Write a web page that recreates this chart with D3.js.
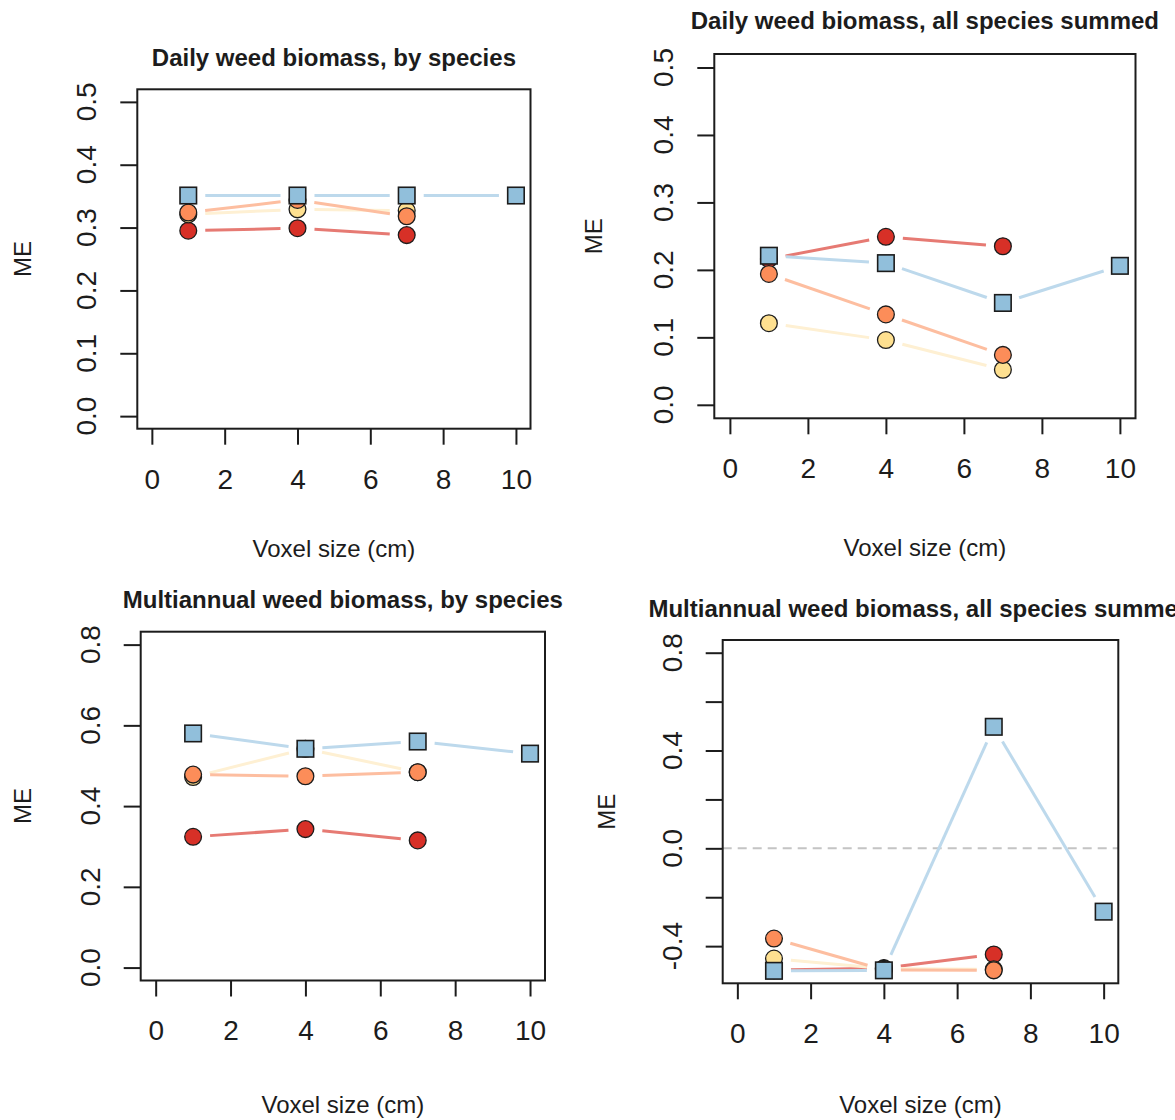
<!DOCTYPE html>
<html>
<head>
<meta charset="utf-8">
<script src="https://cdn.jsdelivr.net/npm/d3@7"></script>
<style>
  html, body { margin: 0; padding: 0; background: #ffffff; }
  svg { display: block; }
</style>
</head>
<body>
<svg id="chart" width="1175" height="1120"></svg>
<script>
// ---------------- data ----------------
const voxelCircles = [1, 4, 7];
const voxelSquares = [1, 4, 7, 10];
const xTicks = [0, 2, 4, 6, 8, 10];
const xTickLabels = ["0", "2", "4", "6", "8", "10"];

const titles = [
  "Daily weed biomass, by species",
  "Daily weed biomass, all species summed",
  "Multiannual weed biomass, by species",
  "Multiannual weed biomass, all species summed"
];
const xLabel = "Voxel size (cm)";
const yLabel = "ME";

// Daily, by species
const dailySpRed    = [0.295, 0.299, 0.288];
const dailySpOrange = [0.324, 0.344, 0.318];
const dailySpYellow = [0.321, 0.329, 0.327];
const dailySpBlue   = [0.351, 0.351, 0.351, 0.351];
const dailySpYTicks = [0, 0.1, 0.2, 0.3, 0.4, 0.5];
const dailySpYLabels = ["0.0", "0.1", "0.2", "0.3", "0.4", "0.5"];

// Daily, all species summed
const dailySumRed    = [0.216, 0.249, 0.235];
const dailySumOrange = [0.194, 0.134, 0.074];
const dailySumYellow = [0.121, 0.096, 0.052];
const dailySumBlue   = [0.221, 0.210, 0.151, 0.206];
const dailySumYTicks = [0, 0.1, 0.2, 0.3, 0.4, 0.5];
const dailySumYLabels = ["0.0", "0.1", "0.2", "0.3", "0.4", "0.5"];

// Multiannual, by species
const multiSpRed    = [0.324, 0.343, 0.315];
const multiSpOrange = [0.478, 0.474, 0.484];
const multiSpYellow = [0.472, 0.542, 0.484];
const multiSpBlue   = [0.580, 0.542, 0.560, 0.530];
const multiSpYTicks = [0, 0.2, 0.4, 0.6, 0.8];
const multiSpYLabels = ["0.0", "0.2", "0.4", "0.6", "0.8"];

// Multiannual, all species summed
const multiSumRed    = [-0.498, -0.490, -0.434];
const multiSumOrange = [-0.369, -0.497, -0.499];
const multiSumYellow = [-0.451, -0.492, -0.495];
const multiSumBlue   = [-0.501, -0.499, 0.497, -0.259];
const multiSumYTicks = [-0.4, -0.2, 0, 0.2, 0.4, 0.6, 0.8];
const multiSumYLabels = ["-0.4", "", "0.0", "", "0.4", "", "0.8"];
const multiSumRefLine = [0];

// ---------------- styles ----------------
const FONT = "'Liberation Sans', Arial, Helvetica, sans-serif";
const INK = "#1c1c1c";
const fillColors = { red: "#D73027", orange: "#FC8D59", yellow: "#FEE090", blue: "#91BFDB" };
const lineColors = { red: "#E67A73", orange: "#FDBEA0", yellow: "#FEF0D3", blue: "#BDD9EC" };
const TICK_FS = 28, TITLE_FS = 24, LAB_FS = 24;
const GAP = 17;           // gap of type="b" lines around each point
const R_CIRCLE = 8.4;
const SQ = 16.5;

// ---------------- layout (per panel) ----------------
const panels = [
  { box: { l: 137.3, r: 530.5, t: 89.3, b: 428.7 }, ydom: [0, 0.5],
    title: titles[0], titleY: 66, xlabY: 557, meX: 22,
    yTicks: dailySpYTicks, yLabels: dailySpYLabels,
    series: { red: dailySpRed, orange: dailySpOrange, yellow: dailySpYellow, blue: dailySpBlue } },
  { box: { l: 714.3, r: 1135.5, t: 54, b: 418.3 }, ydom: [0, 0.5],
    title: titles[1], titleY: 29, xlabY: 556, meX: 593,
    yTicks: dailySumYTicks, yLabels: dailySumYLabels,
    series: { red: dailySumRed, orange: dailySumOrange, yellow: dailySumYellow, blue: dailySumBlue } },
  { box: { l: 140.7, r: 545, t: 631.7, b: 980.5 }, ydom: [0, 0.8],
    title: titles[2], titleY: 607.5, xlabY: 1113, meX: 22,
    yTicks: multiSpYTicks, yLabels: multiSpYLabels,
    series: { red: multiSpRed, orange: multiSpOrange, yellow: multiSpYellow, blue: multiSpBlue } },
  { box: { l: 722.7, r: 1118.3, t: 640, b: 983.3 }, ydom: [-0.5, 0.8],
    title: titles[3], titleY: 616.5, xlabY: 1113, meX: 606,
    yTicks: multiSumYTicks, yLabels: multiSumYLabels, refLine: multiSumRefLine,
    series: { red: multiSumRed, orange: multiSumOrange, yellow: multiSumYellow, blue: multiSumBlue } }
];

const svg = d3.select("#chart");

function ext(dom) { const d = (dom[1] - dom[0]) * 0.04; return [dom[0] - d, dom[1] + d]; }

panels.forEach(p => {
  const b = p.box;
  const x = d3.scaleLinear().domain(ext([0, 10])).range([b.l, b.r]);
  const y = d3.scaleLinear().domain(ext(p.ydom)).range([b.b, b.t]);
  const g = svg.append("g");

  // title
  g.append("text").attr("x", (b.l + b.r) / 2).attr("y", p.titleY)
    .attr("text-anchor", "middle").attr("font-family", FONT).attr("font-weight", "bold")
    .attr("font-size", TITLE_FS).attr("fill", INK).text(p.title);

  // x axis
  const xa = d3.axisBottom(x).tickValues(xTicks).tickSize(16).tickPadding(24)
    .tickFormat((d, i) => xTickLabels[i]);
  const xg = g.append("g").attr("transform", `translate(0,${b.b})`).call(xa);
  xg.select(".domain").remove();
  xg.selectAll("line").attr("stroke", INK).attr("stroke-width", 2);
  xg.selectAll("text").attr("font-family", FONT).attr("font-size", TICK_FS).attr("fill", INK);

  // y axis
  const ya = d3.axisLeft(y).tickValues(p.yTicks).tickSize(17).tickFormat(() => "");
  const yg = g.append("g").attr("transform", `translate(${b.l},0)`).call(ya);
  yg.select(".domain").remove();
  yg.selectAll("line").attr("stroke", INK).attr("stroke-width", 2);
  yg.selectAll("text").remove();
  p.yTicks.forEach((v, i) => {
    if (!p.yLabels[i]) return;
    g.append("g").attr("transform", `translate(${b.l - 51},${y(v)}) rotate(-90)`)
      .append("text").attr("x", 0).attr("y", 0.358 * TICK_FS)
      .attr("text-anchor", "middle").attr("font-family", FONT).attr("font-size", TICK_FS)
      .attr("fill", INK).text(p.yLabels[i]);
  });

  // axis titles
  g.append("text").attr("x", (b.l + b.r) / 2).attr("y", p.xlabY)
    .attr("text-anchor", "middle").attr("font-family", FONT).attr("font-size", LAB_FS)
    .attr("fill", INK).text(xLabel);
  g.append("g").attr("transform", `translate(${p.meX},${(b.t + b.b) / 2}) rotate(-90)`)
    .append("text").attr("y", 0.358 * LAB_FS).attr("text-anchor", "middle")
    .attr("font-family", FONT).attr("font-size", LAB_FS).attr("fill", INK).text(yLabel);

  // reference line
  if (p.refLine) {
    p.refLine.forEach(v => {
      g.append("line").attr("x1", b.l).attr("x2", b.r).attr("y1", y(v)).attr("y2", y(v))
        .attr("stroke", "#c4c4c4").attr("stroke-width", 2).attr("stroke-dasharray", "9,6");
    });
  }

  // lines (type = "b": segments with gaps around points)
  const order = ["red", "yellow", "orange", "blue"];
  order.forEach(key => {
    const vals = p.series[key];
    const xs = key === "blue" ? voxelSquares : voxelCircles;
    const pts = vals.map((v, i) => [x(xs[i]), y(v)]);
    for (let i = 0; i < pts.length - 1; i++) {
      const [x1, y1] = pts[i], [x2, y2] = pts[i + 1];
      const dx = x2 - x1, dy = y2 - y1, len = Math.hypot(dx, dy);
      if (len <= 2 * GAP) continue;
      const ux = dx / len, uy = dy / len;
      g.append("line")
        .attr("x1", x1 + ux * GAP).attr("y1", y1 + uy * GAP)
        .attr("x2", x2 - ux * GAP).attr("y2", y2 - uy * GAP)
        .attr("stroke", lineColors[key]).attr("stroke-width", 3);
    }
  });

  // points
  order.forEach(key => {
    const vals = p.series[key];
    if (key === "blue") {
      g.selectAll(null).data(vals).enter().append("rect")
        .attr("x", (d, i) => x(voxelSquares[i]) - SQ / 2)
        .attr("y", d => y(d) - SQ / 2)
        .attr("width", SQ).attr("height", SQ)
        .attr("fill", fillColors.blue).attr("stroke", INK).attr("stroke-width", 1.6);
    } else {
      g.selectAll(null).data(vals).enter().append("circle")
        .attr("cx", (d, i) => x(voxelCircles[i]))
        .attr("cy", d => y(d))
        .attr("r", R_CIRCLE)
        .attr("fill", fillColors[key]).attr("stroke", INK).attr("stroke-width", 1.3);
    }
  });

  // box
  g.append("rect").attr("x", b.l).attr("y", b.t).attr("width", b.r - b.l).attr("height", b.b - b.t)
    .attr("fill", "none").attr("stroke", INK).attr("stroke-width", 2);
});
</script>
</body>
</html>
